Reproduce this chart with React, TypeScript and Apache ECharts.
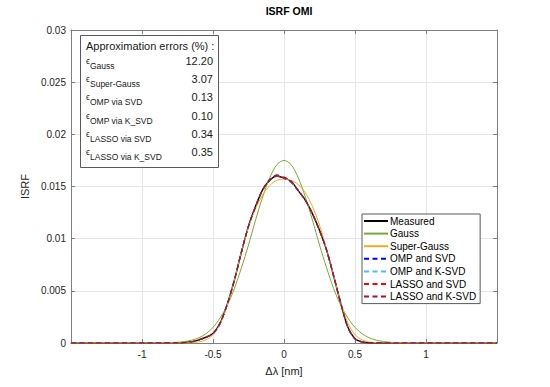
import React, { useEffect, useRef } from "react";
import * as echarts from "echarts";

// Δλ sample positions (nm)
const xValues = [
  -1.5, -0.85, -0.8, -0.75, -0.7, -0.65, -0.6, -0.55, -0.5, -0.45, -0.4, -0.35,
  -0.3, -0.25, -0.2, -0.15, -0.1, -0.05, 0, 0.05, 0.1, 0.15, 0.2, 0.25, 0.3,
  0.35, 0.4, 0.45, 0.5, 0.55, 0.6, 0.65, 0.7, 0.75, 0.8, 0.85, 1.5,
];

const measured = [
  0, 0, 0.00001, 0.00002, 0.00005, 0.00012, 0.0003, 0.00055, 0.0009, 0.0019,
  0.0037, 0.006, 0.0087, 0.0112, 0.0131, 0.0147, 0.0156, 0.016, 0.0158, 0.0155,
  0.0146, 0.0137, 0.0124, 0.0108, 0.0089, 0.0064, 0.0038, 0.0015, 0.0004,
  0.0001, 0.00003, 0.00001, 0, 0, 0, 0, 0,
];

const gauss = [
  0, 0.00001, 0.00003, 0.00007, 0.00014, 0.00027, 0.0005, 0.00088, 0.0015,
  0.0024, 0.0036, 0.0052, 0.0072, 0.0094, 0.0118, 0.014, 0.01585, 0.0171,
  0.0175, 0.0171, 0.01585, 0.014, 0.0118, 0.0094, 0.0072, 0.0052, 0.0036,
  0.0024, 0.0015, 0.00088, 0.0005, 0.00027, 0.00014, 0.00007, 0.00003, 0.00001, 0,
];

const superGauss = [
  0, 0, 0, 0, 0.00001, 0.00003, 0.0001, 0.0003, 0.0008, 0.0018, 0.0036, 0.006,
  0.0087, 0.0111, 0.0129, 0.0142, 0.0151, 0.0156, 0.0157, 0.0156, 0.0152,
  0.0144, 0.0131, 0.0113, 0.009, 0.0064, 0.0039, 0.0019, 0.0008, 0.0003,
  0.0001, 0.00003, 0.00001, 0, 0, 0, 0,
];

const ompSvd = [
  0, 0, 0.00001, 0.00002, 0.00005, 0.00012, 0.0003, 0.00055, 0.0009, 0.0019,
  0.0037, 0.006, 0.0087, 0.0112, 0.0131, 0.0147, 0.0156, 0.0161, 0.0158, 0.0154,
  0.0146, 0.0137, 0.0124, 0.0108, 0.0089, 0.0064, 0.0038, 0.0015, 0.0004,
  0.0001, 0.00003, 0.00001, 0, 0, 0, 0, 0,
];

const ompKsvd = [
  0, 0, 0.00001, 0.00002, 0.00005, 0.00012, 0.0003, 0.00055, 0.0009, 0.0019,
  0.0037, 0.006, 0.0087, 0.0112, 0.0131, 0.0147, 0.0156, 0.016, 0.0158, 0.0155,
  0.0146, 0.0137, 0.0124, 0.0108, 0.0089, 0.0064, 0.0038, 0.0015, 0.0004,
  0.0001, 0.00003, 0.00001, 0, 0, 0, 0, 0,
];

const lassoSvd = [
  0, 0, 0.00001, 0.00002, 0.00005, 0.00012, 0.0003, 0.00055, 0.0009, 0.0019,
  0.0037, 0.006, 0.0087, 0.0112, 0.0131, 0.0147, 0.0157, 0.0161, 0.0158, 0.0155,
  0.0146, 0.0137, 0.0124, 0.0108, 0.0089, 0.0064, 0.0038, 0.0015, 0.0004,
  0.0001, 0.00003, 0.00001, 0, 0, 0, 0, 0,
];

const lassoKsvd = [
  0, 0, 0.00001, 0.00002, 0.00005, 0.00012, 0.0003, 0.00055, 0.0009, 0.0019,
  0.0037, 0.006, 0.0087, 0.0112, 0.0131, 0.0147, 0.0156, 0.016, 0.0159, 0.0155,
  0.0146, 0.0137, 0.0124, 0.0108, 0.0089, 0.0064, 0.0038, 0.0015, 0.0004,
  0.0001, 0.00003, 0.00001, 0, 0, 0, 0, 0,
];

const seriesNames = [
  "Measured",
  "Gauss",
  "Super-Gauss",
  "OMP and SVD",
  "OMP and K-SVD",
  "LASSO and SVD",
  "LASSO and K-SVD",
];
const seriesData = [measured, gauss, superGauss, ompSvd, ompKsvd, lassoSvd, lassoKsvd];

const errorTitle = "Approximation errors (%) :";
const errorLabels = [
  "Gauss",
  "Super-Gauss",
  "OMP via SVD",
  "OMP via K_SVD",
  "LASSO via SVD",
  "LASSO via K_SVD",
];
const errorValues = ["12.20", "3.07", "0.13", "0.10", "0.34", "0.35"];

const FONT = "'Liberation Sans', Arial, Helvetica, sans-serif";

export default function App() {
  const ref = useRef<HTMLDivElement>(null);

  useEffect(() => {
    const chart = echarts.init(ref.current as HTMLDivElement, null, { renderer: "svg" });

    const lineStyles = [
      { color: "#000000", width: 1.4, type: "solid" },
      { color: "#77AC30", width: 1, type: "solid" },
      { color: "#EDB120", width: 1, type: "solid" },
      { color: "#0000FF", width: 1.2, type: [5, 3.5] },
      { color: "#4DBEEE", width: 1.2, type: [5, 3.5] },
      { color: "#FF0000", width: 1.2, type: [5, 3.5] },
      { color: "#A2142F", width: 1.2, type: [5, 3.5] },
    ];

    const axisColor = "#7f7f7f";
    const labelColor = "#262626";

    const baseX = {
      type: "value",
      min: -1.5,
      max: 1.5,
      interval: 0.5,
      axisLine: { show: true, onZero: false, lineStyle: { color: axisColor, width: 1 } },
      axisTick: { show: true, inside: true, length: 4, lineStyle: { color: axisColor } },
    };
    const baseY = {
      type: "value",
      min: 0,
      max: 0.03,
      interval: 0.005,
      axisLine: { show: true, onZero: false, lineStyle: { color: axisColor, width: 1 } },
      axisTick: { show: true, inside: true, length: 4, lineStyle: { color: axisColor } },
    };

    const graphics: any[] = [
      {
        type: "rect",
        z: 100,
        shape: { x: 80.5, y: 35.5, width: 138, height: 132 },
        style: { fill: "#ffffff", stroke: "#5a5a5a", lineWidth: 1 },
      },
      {
        type: "text",
        z: 101,
        x: 86,
        y: 46,
        style: {
          text: errorTitle,
          fontSize: 11,
          fontFamily: FONT,
          fill: "#1a1a1a",
          verticalAlign: "middle",
          align: "left",
        },
      },
    ];
    errorLabels.forEach((lab, i) => {
      const yc = 61 + i * 18.2;
      graphics.push({
        type: "text",
        z: 101,
        x: 86,
        y: yc,
        style: { text: "\u03f5", fontSize: 8.5, fontFamily: FONT, fill: "#1a1a1a", verticalAlign: "middle" },
      });
      graphics.push({
        type: "text",
        z: 101,
        x: 90,
        y: yc + 5,
        style: { text: lab, fontSize: 8.5, fontFamily: FONT, fill: "#1a1a1a", verticalAlign: "middle" },
      });
      graphics.push({
        type: "text",
        z: 101,
        x: 213,
        y: yc,
        style: {
          text: errorValues[i],
          fontSize: 11,
          fontFamily: FONT,
          fill: "#1a1a1a",
          verticalAlign: "middle",
          align: "right",
        },
      });
    });

    chart.setOption({
      animation: false,
      backgroundColor: "#ffffff",
      textStyle: { fontFamily: FONT },
      title: {
        text: "ISRF OMI",
        left: 284,
        textAlign: "center",
        top: 0,
        textStyle: { fontSize: 10.5, fontWeight: "bold", color: "#000", fontFamily: FONT },
      },
      grid: { left: 71, right: 53, top: 30, bottom: 44, containLabel: false },
      legend: {
        orient: "vertical",
        left: 362,
        top: 214,
        padding: [2, 4, 2, 1],
        itemWidth: 24,
        itemHeight: 10,
        itemGap: 2.6,
        backgroundColor: "#ffffff",
        borderColor: "#5a5a5a",
        borderWidth: 1,
        itemStyle: { opacity: 0 },
        textStyle: { fontSize: 10, color: "#000", fontFamily: FONT, padding: [0, 0, 0, -3] },
        data: seriesNames,
      },
      xAxis: [
        {
          ...baseX,
          position: "bottom",
          name: "\u0394\u03bb [nm]",
          nameLocation: "middle",
          nameGap: 22,
          nameTextStyle: { fontSize: 11, color: labelColor, fontFamily: FONT },
          axisLabel: {
            show: true,
            margin: 6,
            fontSize: 10,
            color: labelColor,
            fontFamily: FONT,
            showMinLabel: false,
            showMaxLabel: false,
          },
          splitLine: { show: true, lineStyle: { color: "#e6e6e6", width: 1 } },
        },
        {
          ...baseX,
          position: "top",
          axisLabel: { show: false },
          splitLine: { show: false },
        },
      ],
      yAxis: [
        {
          ...baseY,
          position: "left",
          name: "ISRF",
          nameLocation: "middle",
          nameGap: 27,
          nameTextStyle: { fontSize: 11, color: labelColor, fontFamily: FONT },
          axisLabel: { show: true, margin: 5, fontSize: 10, color: labelColor, fontFamily: FONT },
          splitLine: { show: true, lineStyle: { color: "#e6e6e6", width: 1 } },
        },
        {
          ...baseY,
          position: "right",
          axisLabel: { show: false },
          splitLine: { show: false },
        },
      ],
      series: seriesNames.map((name, k) => ({
        name,
        type: "line",
        xAxisIndex: 0,
        yAxisIndex: 0,
        data: xValues.map((x, i) => [x, seriesData[k][i]]),
        smooth: 0.3,
        symbol: "none",
        showSymbol: false,
        lineStyle: lineStyles[k],
        itemStyle: { color: "rgba(0,0,0,0)", borderColor: "rgba(0,0,0,0)" },
        z: 2 + k,
      })),
      graphic: graphics,
    });

    return () => {
      chart.dispose();
    };
  }, []);

  return (
    <div
      ref={ref}
      style={{ position: "absolute", left: 0, top: 0, width: 550, height: 387, background: "#fff" }}
    />
  );
}
